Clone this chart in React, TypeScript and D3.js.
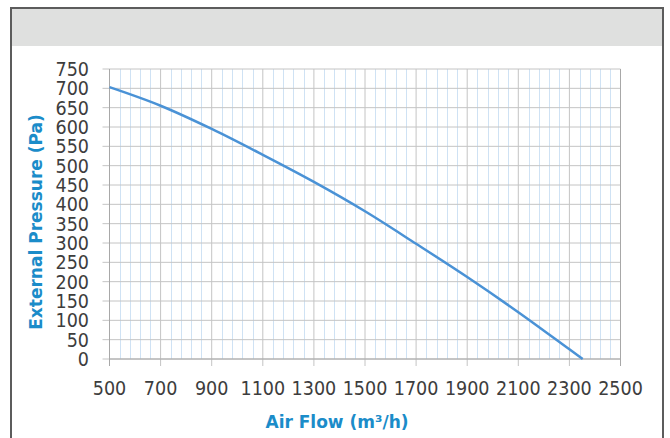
import { useEffect, useRef } from 'react'
import * as d3 from 'd3'

// fan curve
const airFlow = [500, 700, 900, 1100, 1300, 1500, 1700, 1900, 2100, 2300, 2352]
const pressure = [703, 655, 595, 528, 458, 382, 298, 212, 121, 25, 0]

const xTicks = [500, 700, 900, 1100, 1300, 1500, 1700, 1900, 2100, 2300, 2500]
const yTicks = [0, 50, 100, 150, 200, 250, 300, 350, 400, 450, 500, 550, 600, 650, 700, 750]

const xLabel = 'Air Flow (m³/h)'
const yLabel = 'External Pressure (Pa)'

export default function App() {
  const svgRef = useRef<SVGSVGElement>(null)

  useEffect(() => {
    if (!svgRef.current) return
    const svg = d3.select(svgRef.current)
    svg.selectAll('*').remove()

    const W = 670
    const H = 438
    const left = 109.5
    const right = 620.5
    const top = 69
    const bottom = 359

    const tickFont = '"DejaVu Sans Condensed", "DejaVu Sans", sans-serif'
    const titleFont = '"DejaVu Sans", sans-serif'

    svg.attr('width', W).attr('height', H)

    // frame + grey header
    svg.append('rect')
      .attr('x', 11).attr('y', 8).attr('width', 652).attr('height', 38)
      .attr('fill', '#dfe0df')
    svg.append('path')
      .attr('d', `M11,${H + 5}V8H663V${H + 5}`)
      .attr('fill', 'none')
      .attr('stroke', '#5c5c5c')
      .attr('stroke-width', 2)

    const x = d3.scaleLinear().domain([500, 2500]).range([left, right])
    const y = d3.scaleLinear().domain([0, 750]).range([bottom, top])

    const g = svg.append('g')

    // minor vertical grid (light blue)
    const minor = d3.range(500, 2500, 40).filter(v => (v - 500) % 200 !== 0)
    g.selectAll('.minor')
      .data(minor)
      .enter().append('line')
      .attr('x1', d => Math.round(x(d)) + 0.5)
      .attr('x2', d => Math.round(x(d)) + 0.5)
      .attr('y1', top).attr('y2', bottom)
      .attr('stroke', '#cfe2f4')
      .attr('stroke-width', 1)

    // major grid
    g.selectAll('.hgrid')
      .data(yTicks)
      .enter().append('line')
      .attr('x1', left - 7).attr('x2', right)
      .attr('y1', d => y(d)).attr('y2', d => y(d))
      .attr('stroke', '#c4c4c4')
      .attr('stroke-width', 1)

    g.selectAll('.vgrid')
      .data(xTicks)
      .enter().append('line')
      .attr('x1', d => x(d)).attr('x2', d => x(d))
      .attr('y1', top).attr('y2', bottom + 7)
      .attr('stroke', d => (d === 500 || d === 2500 ? '#a8a8a8' : '#c4c4c4'))
      .attr('stroke-width', 1)

    // axis line
    g.append('line')
      .attr('x1', left).attr('x2', right).attr('y1', bottom).attr('y2', bottom)
      .attr('stroke', '#a8a8a8')

    // tick labels
    g.selectAll('.ylab')
      .data(yTicks)
      .enter().append('text')
      .attr('x', 89)
      .attr('y', d => y(d))
      .attr('dy', '0.36em')
      .attr('text-anchor', 'end')
      .style('font-family', tickFont)
      .style('font-size', '19.5px')
      .style('fill', '#3d3d3d')
      .text(d => d)

    g.selectAll('.xlab')
      .data(xTicks)
      .enter().append('text')
      .attr('x', d => x(d))
      .attr('y', 395)
      .attr('text-anchor', 'middle')
      .style('font-family', tickFont)
      .style('font-size', '19.5px')
      .style('fill', '#3d3d3d')
      .text(d => d)

    // curve
    const pts = airFlow.map((f, i) => [f, pressure[i]] as [number, number])
    const line = d3.line<[number, number]>()
      .x(d => x(d[0]))
      .y(d => y(d[1]))
      .curve(d3.curveMonotoneX)
    g.append('path')
      .datum(pts)
      .attr('d', line)
      .attr('fill', 'none')
      .attr('stroke', '#4a92d6')
      .attr('stroke-width', 2.5)

    // axis titles
    svg.append('text')
      .attr('x', 337)
      .attr('y', 428)
      .attr('text-anchor', 'middle')
      .style('font-family', titleFont)
      .style('font-weight', 'bold')
      .style('font-size', '17px')
      .style('fill', '#1b8cc9')
      .text(xLabel)

    svg.append('text')
      .attr('transform', 'translate(42,222) rotate(-90)')
      .attr('text-anchor', 'middle')
      .style('font-family', titleFont)
      .style('font-weight', 'bold')
      .style('font-size', '17px')
      .style('fill', '#1b8cc9')
      .text(yLabel)
  }, [])

  return (
    <div style={{ position: 'absolute', left: 0, top: 0, width: 670, height: 438, background: '#fff' }}>
      <svg ref={svgRef}></svg>
    </div>
  )
}
